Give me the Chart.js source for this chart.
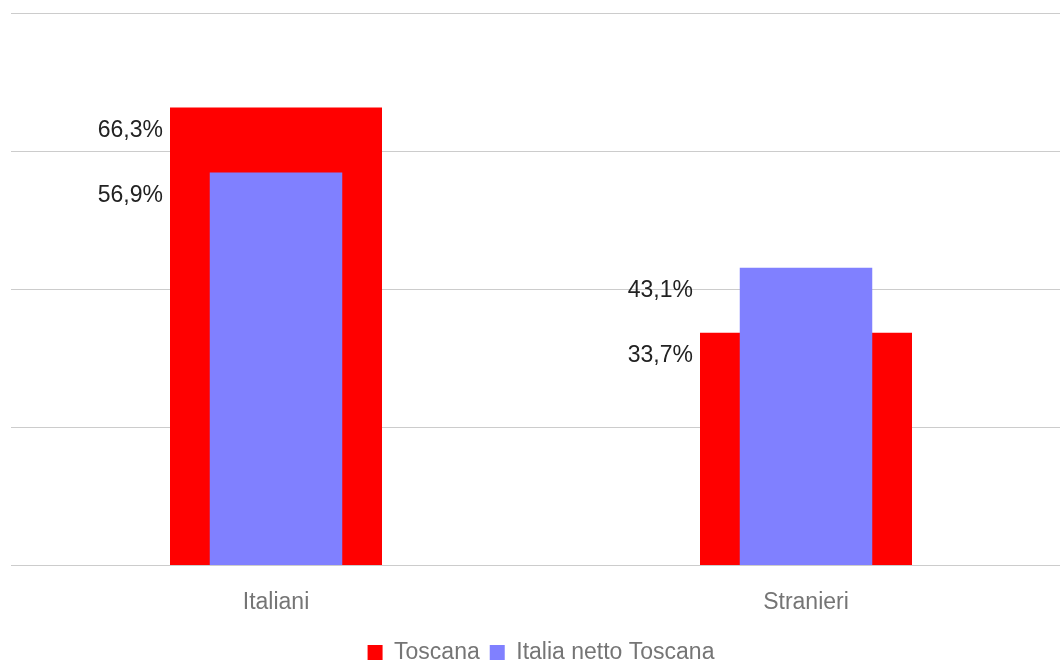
<!DOCTYPE html>
<html lang="it">
<head>
<meta charset="UTF-8">
<title>Toscana vs Italia netto Toscana</title>
<script src="https://cdn.jsdelivr.net/npm/chart.js"></script>
<style>
    html, body { margin: 0; padding: 0; background: #fff; overflow: hidden; }
    #wrap { width: 1071px; height: 663px; position: relative; }
</style>
</head>
<body>
<div id="wrap"><canvas id="myChart"></canvas></div>
<script>
    // dati
    const categorie = ['Italiani', 'Stranieri'];
    const toscana = [66.3, 33.7];
    const italiaNettoToscana = [56.9, 43.1];

    const fmt = v => v.toFixed(1).replace('.', ',') + '%';

    // etichette a sinistra della barra rossa
    const etichette = {
        id: 'etichette',
        afterDatasetsDraw(chart) {
            const ctx = chart.ctx;
            const rosse = chart.getDatasetMeta(0).data;
            ctx.save();
            ctx.font = '23px "Liberation Sans", Arial, sans-serif';
            ctx.fillStyle = '#222';
            ctx.textAlign = 'right';
            ctx.textBaseline = 'middle';
            chart.data.datasets.forEach((ds, di) => {
                const meta = chart.getDatasetMeta(di);
                meta.data.forEach((bar, i) => {
                    const rossa = rosse[i];
                    const x = rossa.x - rossa.width / 2 - 7;
                    ctx.fillText(fmt(ds.data[i]), x, bar.y + 23);
                });
            });
            ctx.restore();
        }
    };

    new Chart(document.getElementById('myChart'), {
        type: 'bar',
        data: {
            labels: categorie,
            datasets: [
                {
                    label: 'Toscana',
                    data: toscana,
                    backgroundColor: '#ff0000',
                    barPercentage: 0.4,
                    categoryPercentage: 1,
                    grouped: false,
                    order: 2
                },
                {
                    label: 'Italia netto Toscana',
                    data: italiaNettoToscana,
                    backgroundColor: '#8080ff',
                    barPercentage: 0.25,
                    categoryPercentage: 1,
                    grouped: false,
                    order: 1
                }
            ]
        },
        options: {
            responsive: true,
            maintainAspectRatio: false,
            animation: false,
            layout: { padding: { left: 11, top: 13, right: 0, bottom: -11 } },
            plugins: {
                tooltip: { enabled: false },
                legend: {
                    position: 'bottom',
                    labels: {
                        boxWidth: 15,
                        boxHeight: 15,
                        padding: 10,
                        color: '#757575',
                        font: { family: '"Liberation Sans", Arial, sans-serif', size: 23 },
                        sort: (a, b) => a.datasetIndex - b.datasetIndex
                    }
                }
            },
            scales: {
                x: {
                    grid: { display: false },
                    border: { display: false },
                    ticks: {
                        color: '#757575',
                        padding: 15,
                        font: { family: '"Liberation Sans", Arial, sans-serif', size: 23 }
                    }
                },
                y: {
                    min: 0,
                    max: 80,
                    ticks: { display: false, stepSize: 20 },
                    grid: { color: '#cccccc', drawTicks: false },
                    border: { display: false }
                }
            }
        },
        plugins: [etichette]
    });
</script>
</body>
</html>
